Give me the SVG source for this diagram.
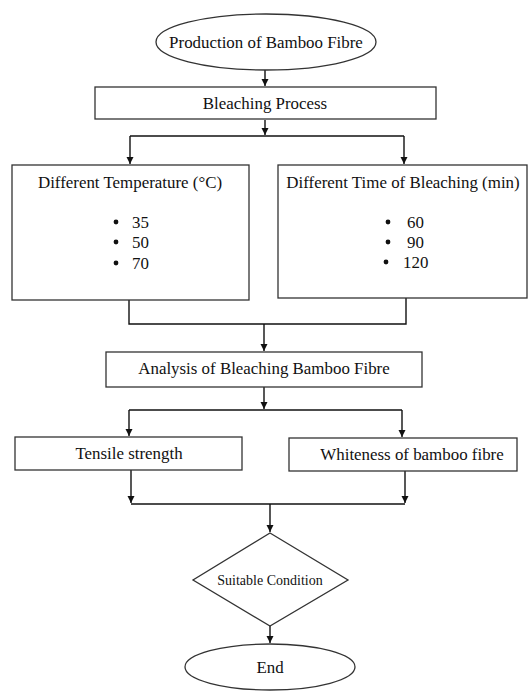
<svg xmlns="http://www.w3.org/2000/svg" width="529" height="693" viewBox="0 0 529 693">
<defs>
<marker id="ah" markerWidth="8" markerHeight="8" refX="7" refY="4" orient="auto" markerUnits="userSpaceOnUse">
<path d="M0,0.5 L7,4 L0,7.5 Z" fill="#111"/>
</marker>
<style>
.n{fill:#fff;stroke:#333;stroke-width:1.3}
.t{font-family:"Liberation Serif","Times New Roman",serif;font-size:16.9px;fill:#111;text-anchor:middle;dominant-baseline:central}
.c{fill:none;stroke:#111;stroke-width:1.4}
.a{fill:none;stroke:#111;stroke-width:1.4;marker-end:url(#ah)}
</style>
</defs>
<rect width="529" height="693" fill="#fff"/>
<g id="connectors">
<path class="a" d="M265,70 V86"/>
<path class="a" d="M265,120 V135"/>
<path class="c" d="M130,136 H404"/>
<path class="a" d="M130,136 V164"/>
<path class="a" d="M404,136 V164"/>
<path class="c" d="M129,300 V324 H406 V298"/>
<path class="a" d="M264,324 V351"/>
<path class="a" d="M264,387 V409"/>
<path class="c" d="M129,410 H402"/>
<path class="a" d="M129,410 V436"/>
<path class="a" d="M402,410 V437"/>
<path class="a" d="M131,470 V503"/>
<path class="a" d="M405,471 V503"/>
<path class="c" d="M131,504 H405"/>
<path class="a" d="M270,504 V532"/>
<path class="a" d="M270,626 V643"/>
</g>
<g id="start">
<ellipse class="n" cx="266" cy="42" rx="110" ry="28"/>
<text class="t" x="266" y="42">Production of Bamboo Fibre</text>
</g>
<g id="bleaching">
<rect class="n" x="95" y="87" width="341" height="32"/>
<text class="t" x="265" y="103">Bleaching Process</text>
</g>
<g id="temperature">
<rect class="n" x="12" y="165" width="237" height="135"/>
<text class="t" x="130" y="182">Different Temperature (°C)</text>
<circle cx="116" cy="222" r="2.4" fill="#111"/>
<circle cx="116" cy="242" r="2.4" fill="#111"/>
<circle cx="116" cy="263" r="2.4" fill="#111"/>
<text class="t" x="132" y="222" style="text-anchor:start">35</text>
<text class="t" x="132" y="242" style="text-anchor:start">50</text>
<text class="t" x="132" y="263" style="text-anchor:start">70</text>
</g>
<g id="time">
<rect class="n" x="278" y="165" width="249" height="133"/>
<text class="t" x="403" y="182">Different Time of Bleaching (min)</text>
<circle cx="388" cy="222" r="2.4" fill="#111"/>
<circle cx="388" cy="242" r="2.4" fill="#111"/>
<circle cx="386" cy="262" r="2.4" fill="#111"/>
<text class="t" x="407" y="222" style="text-anchor:start">60</text>
<text class="t" x="407" y="242" style="text-anchor:start">90</text>
<text class="t" x="403" y="262" style="text-anchor:start">120</text>
</g>
<g id="analysis">
<rect class="n" x="106" y="352" width="316" height="35"/>
<text class="t" x="264" y="368">Analysis of Bleaching Bamboo Fibre</text>
</g>
<g id="tensile">
<rect class="n" x="15" y="437" width="227" height="33"/>
<text class="t" x="129" y="453">Tensile strength</text>
</g>
<g id="whiteness">
<rect class="n" x="289" y="438" width="228" height="33"/>
<text class="t" x="412" y="454">Whiteness of bamboo fibre</text>
</g>
<g id="condition">
<path class="n" d="M270,533 L348,580 L270,626 L193,580 Z"/>
<text class="t" x="270" y="580" style="font-size:14px">Suitable Condition</text>
</g>
<g id="end">
<ellipse class="n" cx="270" cy="667" rx="85" ry="23"/>
<text class="t" x="270" y="667">End</text>
</g>
</svg>
